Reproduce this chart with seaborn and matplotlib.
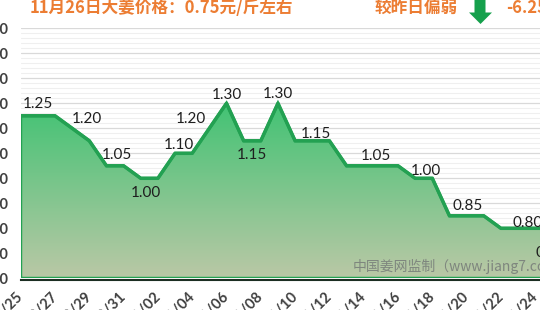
import numpy as np
import pandas as pd
import matplotlib
matplotlib.use("Agg")
import matplotlib.pyplot as plt
import seaborn as sns
from matplotlib.patches import Polygon
from matplotlib.transforms import IdentityTransform
from matplotlib.ticker import FixedLocator, MultipleLocator

# ---------------- data ----------------
dates = ["10/25", "10/26", "10/27", "10/28", "10/29", "10/30", "10/31",
         "11/01", "11/02", "11/03", "11/04", "11/05", "11/06", "11/07",
         "11/08", "11/09", "11/10", "11/11", "11/12", "11/13", "11/14",
         "11/15", "11/16", "11/17", "11/18", "11/19", "11/20", "11/21",
         "11/22", "11/23", "11/24", "11/25", "11/26"]
prices = [1.25, 1.25, 1.25, 1.20, 1.15, 1.05, 1.05,
          1.00, 1.00, 1.10, 1.10, 1.20, 1.30, 1.15,
          1.15, 1.30, 1.15, 1.15, 1.15, 1.05, 1.05,
          1.05, 1.05, 1.00, 1.00, 0.85, 0.85, 0.85,
          0.80, 0.80, 0.80, 0.80, 0.75]
labelled_dates = ["10/26", "10/28", "10/30", "11/01", "11/03", "11/05", "11/06",
                  "11/07", "11/09", "11/11", "11/15", "11/18", "11/20", "11/24",
                  "11/26"]
y_ticks = [0.60, 0.70, 0.80, 0.90, 1.00, 1.10, 1.20, 1.30, 1.40, 1.50, 1.60]
title_left = "11月26日大姜价格：0.75元/斤左右"
title_right = "较昨日偏弱"
change_text = "-6.25%"
watermark = "中国姜网监制（www.jiang7.com）"

# label placement (pixels: dx right, dy up, of label centre from point)
label_offsets = [(0, 13), (15, 10.5), (10, 12), (5, -13), (4, 10), (-18, 10.5),
                 (0, 10), (8, -13), (0, 11), (4, 8), (-5, 11), (-6, 9),
                 (1, 11), (-8, 7), (-19, -11)]

# ---------------- style ----------------
sns.set_style("white")
plt.rcParams['font.family'] = ['Lato', 'DejaVu Sans']
CJK = ['Noto Sans CJK SC', 'DejaVu Sans']
ORANGE = '#EC7D33'
LINE = '#23A152'
DARK = '#1C2E22'
TOP_C = np.array([0x42, 0xC3, 0x74]) / 255
BOT_C = np.array([0xBA, 0xC8, 0xA6]) / 255

W, H = 540, 310
fig = plt.figure(figsize=(W / 100, H / 100), dpi=100)
x0_px, day_px = 20.7, 17.15
bottom_px, unit_px = 278.3, 250.0
n = len(dates)
ax = fig.add_axes([x0_px / W, (H - bottom_px) / H,
                   (n - 1) * day_px / W, unit_px / H])

df = pd.DataFrame({"idx": np.arange(n), "price": prices, "date": dates})
ymin, ymax = y_ticks[0], y_ticks[-1]

# grid
ax.yaxis.set_major_locator(FixedLocator(y_ticks))
ax.yaxis.set_minor_locator(MultipleLocator(0.02))
ax.grid(which='major', axis='y', color='#D9D9D9', lw=0.9, zorder=0)
ax.grid(which='minor', axis='y', color='#EFEFEF', lw=0.8, zorder=0)
ax.grid(which='both', axis='x', visible=False)
ax.set_axisbelow(True)

# area with gradient
verts = [(0, ymin)] + list(zip(df["idx"], df["price"])) + [(n - 1, ymin)]
poly = Polygon(verts, closed=True, facecolor='none', edgecolor=LINE, lw=2.2, zorder=3)
ax.add_patch(poly)
grad = np.linspace(0, 1, 256)[:, None, None]
img = TOP_C[None, None, :] * (1 - grad) + BOT_C[None, None, :] * grad
im = ax.imshow(img, extent=[0, n - 1, ymin, max(prices)], origin='upper',
               aspect='auto', zorder=2, interpolation='bilinear')
im.set_clip_path(poly)

sns.lineplot(data=df, x="idx", y="price", color=LINE, lw=2.5, ax=ax, zorder=4)

ax.set_xlim(0, n - 1)
ax.set_ylim(ymin, ymax)
ax.set_xlabel("")
ax.set_ylabel("")

# data labels
for d, (dx, dy) in zip(labelled_dates, label_offsets):
    i = dates.index(d)
    ax.annotate(f"{prices[i]:.2f}", (i, prices[i]), xytext=(dx, dy - 5.5),
                textcoords='offset pixels', ha='center', va='baseline',
                fontsize=11, color='#1E1E1E', zorder=6)

# axes
for s in ['top', 'right', 'left']:
    ax.spines[s].set_visible(False)
ax.spines['bottom'].set_color(DARK)
ax.spines['bottom'].set_linewidth(1.5)
ax.spines['bottom'].set_zorder(5)
ax.spines['bottom'].set_position(('outward', 1.5))

major_idx = list(range(0, n, 2))
ax.xaxis.set_major_locator(FixedLocator(major_idx))
ax.xaxis.set_minor_locator(MultipleLocator(1))
ax.set_xticklabels([dates[i] for i in major_idx], rotation=45, ha='right',
                   rotation_mode='anchor', va='center',
                   fontsize=10.5, fontweight='bold', color='#404040')
ax.tick_params(axis='x', which='major', direction='inout', length=6.5, width=1.0,
               color=DARK, pad=6.8)
ax.tick_params(axis='x', which='minor', direction='in', length=3, width=1.0,
               color=DARK)
ax.set_yticklabels([f"{v:.2f}" for v in y_ticks], fontsize=10.5,
                   fontweight='bold', color='#404040')
ax.tick_params(axis='y', which='both', length=0, pad=9)

# header texts
fig.text(30 / W, 1 - 13 / H, title_left, ha='left', va='baseline', fontsize=12,
         fontweight='bold', color=ORANGE, family=CJK)
fig.text(375 / W, 1 - 13 / H, title_right, ha='left', va='baseline', fontsize=12,
         fontweight='bold', color=ORANGE, family=CJK)
fig.text(506 / W, 1 - 13 / H, change_text, ha='left', va='baseline', fontsize=12,
         fontweight='bold', color=ORANGE, family=CJK)

# green down arrow (pixel coordinates, origin bottom-left)
arrow_px = [(474.5, H - 0), (485.5, H - 0), (485.5, H - 12.5), (492, H - 12.5),
            (480.5, H - 24), (469, H - 12.5), (474.5, H - 12.5)]
fig.patches.append(Polygon(arrow_px, closed=True, facecolor='#15A04C',
                           edgecolor='none', transform=IdentityTransform(),
                           figure=fig))

# watermark
fig.text(353 / W, 1 - 271 / H, watermark, ha='left', va='baseline',
         fontsize=10, color='#7E867E', family=CJK, zorder=7)

fig.savefig("out.png", dpi=100)
